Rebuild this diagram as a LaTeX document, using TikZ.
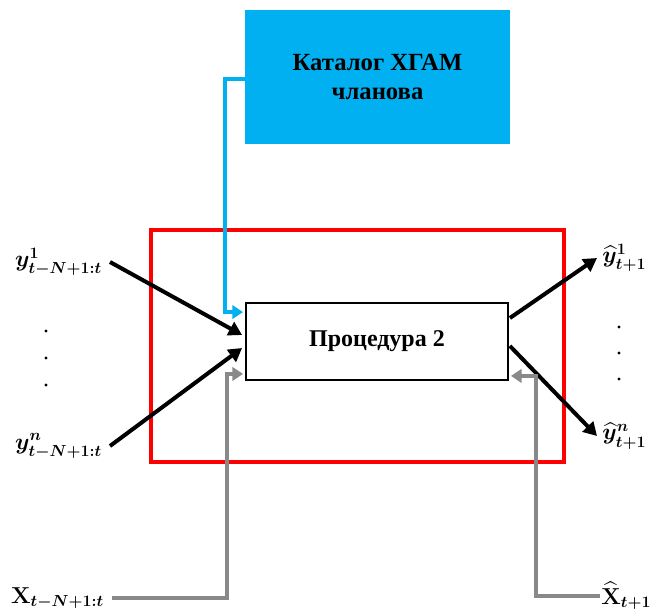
\documentclass[tikz,border=0pt]{standalone}
\usepackage{fontspec}
\setmainfont{Liberation Serif}
\usepackage{amsmath}
\usetikzlibrary{arrows.meta,calc}
\definecolor{catblue}{HTML}{00B0F0}
\definecolor{lgray}{HTML}{898989}
\DeclareMathSizes{17}{18}{12.5}{10}
\begin{document}
\begin{tikzpicture}[x=0.75pt,y=-0.75pt,
  catbox/.style={fill=catblue,draw=none,minimum width=198.75pt,minimum height=100.5pt,align=center,inner sep=0pt,
     font=\fontsize{18.5}{22}\selectfont\bfseries},
  procbox/.style={draw=black,line width=1.4pt,fill=white,minimum width=196.5pt,minimum height=57.75pt,inner sep=0pt,
     font=\fontsize{18}{20.5}\selectfont\bfseries},
  lab/.style={inner sep=0pt,outer xsep=6pt,font=\fontsize{17}{19}\selectfont\boldmath},
  blk/.style={line width=3pt,-{Triangle[length=10pt,width=11pt]}},
  bluearr/.style={catblue,line width=3pt,-{Triangle[length=8pt,width=10pt]}},
  grayarr/.style={lgray,line width=3pt,-{Triangle[length=8pt,width=10pt]}},
  dotn/.style={circle,fill=black,inner sep=0pt,minimum size=2.4pt},
]
\useasboundingbox (0,0) rectangle (651,615);
% frame
\node[draw=red,line width=2.4pt,minimum width=309.75pt,minimum height=174pt,inner sep=0pt] (frame) at (357.5,346) {};
% boxes
\node[catbox] (cat) at (377.5,77) {Каталог ХГАМ\\чланова};
\node[procbox] (proc) at (377,341.5) {Процедура 2};
% labels
\node[lab,anchor=east] (y1) at (110,262) {$y^{1}_{t-N+1:t}$};
\node[lab,anchor=east] (yn) at (110,446) {$y^{n}_{t-N+1:t}$};
\node[lab,anchor=east] (xin) at (112,598) {$\mathbf{X}_{t-N+1:t}$};
\node[lab,anchor=west,outer xsep=4pt] (yh1) at (597,258) {$\widehat{y}^{1}_{t+1}$};
\node[lab,anchor=west,outer xsep=4pt] (yhn) at (597,436) {$\widehat{y}^{n}_{t+1}$};
\node[lab,anchor=west,outer xsep=1pt] (xh) at (600,596) {$\widehat{\mathbf{X}}_{t+1}$};
% dots
\node[dotn] (dl1) at (46,331) {};
\node[dotn] (dl2) at (46,358) {};
\node[dotn] (dl3) at (46,385) {};
\node[dotn] (dr1) at (619,327) {};
\node[dotn] (dr2) at (619,353) {};
\node[dotn] (dr3) at (619,379) {};
% connectors
\draw[bluearr] ($(cat.west)+(0,2)$) -- ++(-20,0) |- ($(proc.north west)+(-2,10)$);
\draw[blk] (y1.east) -- ($(proc.west)+(-3,-6.5)$);
\draw[blk] (yn.east) -- ($(proc.west)+(-3,6.5)$);
\draw[grayarr] (xin.east) -| ($(proc.south west)+(-18,-7)$) -- ($(proc.south west)+(-2,-7)$);
\draw[blk] ($(proc.east)+(1,-23.5)$) -- (yh1.west);
\draw[blk] ($(proc.east)+(1,4.5)$) -- (yhn.west);
\draw[grayarr] (xh.west) -| ($(proc.south east)+(27,-5)$) -- ($(proc.south east)+(2,-5)$);
\end{tikzpicture}
\end{document}
